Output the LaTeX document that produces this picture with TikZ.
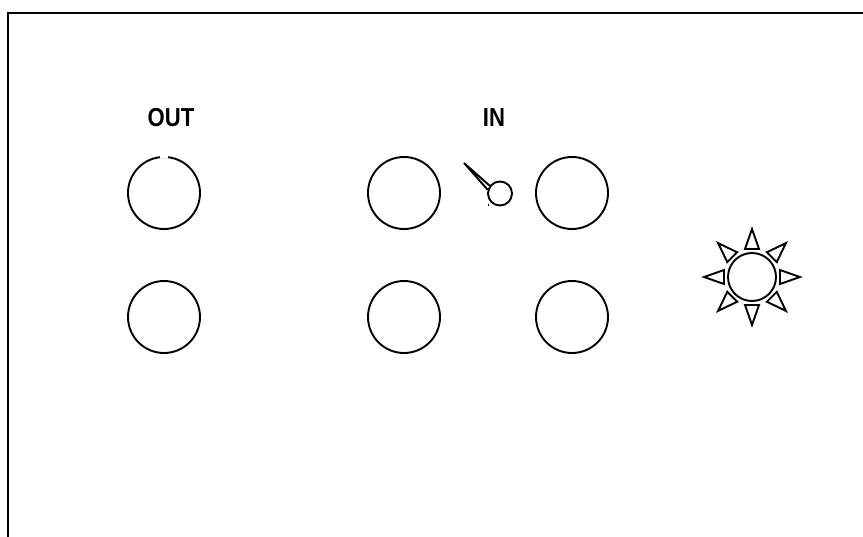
\documentclass[tikz,border=0pt]{standalone}
\usepackage{fontspec}
\setmainfont{Liberation Sans}
\usetikzlibrary{positioning}
\newcommand{\paneltext}[1]{\scalebox{.85}[1]{\bfseries #1}}
\tikzset{
  jack/.style={draw,circle,inner sep=0pt,minimum size=72pt},
  lamp/.style={draw,circle,inner sep=0pt,minimum size=48pt},
  pivot/.style={draw,circle,inner sep=0pt,minimum size=24pt},
  tag/.style={font=\fontsize{26}{26}\selectfont,inner sep=0pt}
}

\begin{document}
\begin{tikzpicture}[x=1pt,y=-1pt,
      line width=1.9pt,
      node distance=124pt,
      on grid]
    \useasboundingbox (0,0) rectangle (863,537);

    \draw (863,13) -- (8,13) -- (8,537);

    \node[jack]
      (OutTop) at (164,193) {};
    \node[jack]
      (OutBottom) [below=of OutTop] {};
    \node[jack]
      (InLeft) at (404,193) {};
    \node[jack]
      (InLeftBottom) [below=of InLeft] {};
    \node[jack]
      (InRight) at (572,193) {};
    \node[jack]
      (InRightBottom) [below=of InRight] {};

    \node[tag]
      (OutLabel) at (171,117.5) {\paneltext{OUT}};
    \node[tag]
      (InLabel) at (494,117.5) {\paneltext{IN}};

    \draw[white,line width=2.5pt] (160,157) -- (168,157);

    % switch
    \node[pivot]
      (Pivot) at (500,193.5) {};
    \coordinate (Tip) at (464,163);
    \draw[line join=miter] (Pivot.143) -- (Tip) -- (Pivot.163);
    \fill (487.5,204.5) rectangle (489,206);

    % lamp
    \node[lamp]
      (Lamp) at (752,277) {};
    \foreach \a in {0,45,...,315}
      \draw[shift={(Lamp.center)},rotate=\a] (28,7) -- (48,0) -- (28,-7) -- cycle;

\end{tikzpicture}
\end{document}
